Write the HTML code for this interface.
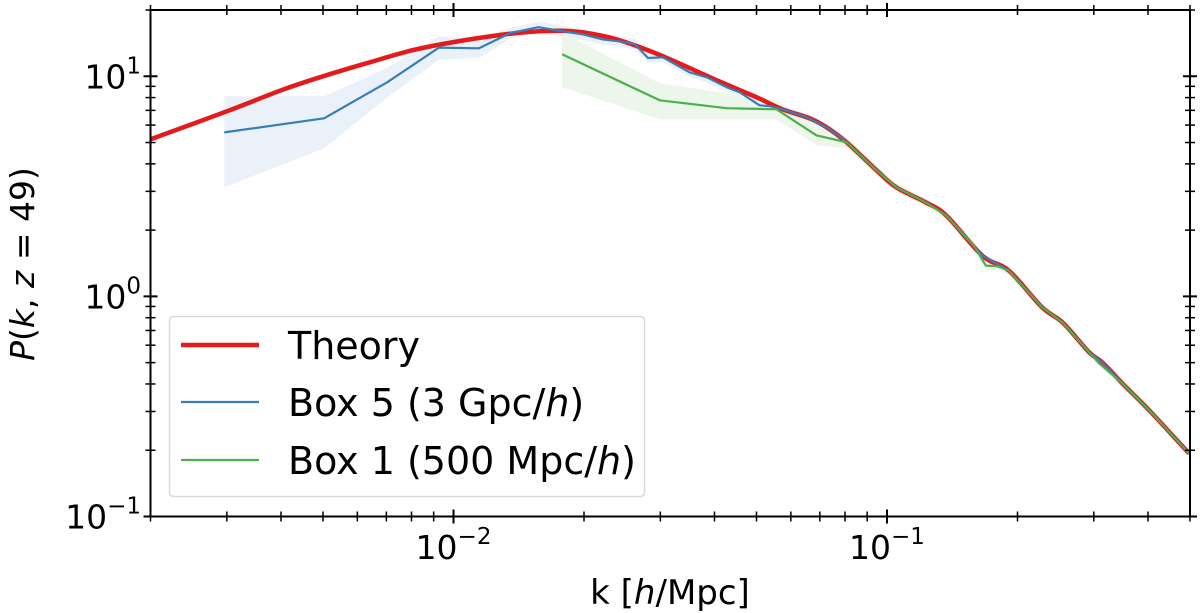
<!DOCTYPE html>
<html><head><meta charset="utf-8"><style>
html,body{margin:0;padding:0;background:#fff;}
svg{display:block;font-family:"DejaVu Sans","Liberation Sans",sans-serif;}
</style></head><body>
<svg id="chart" width="1200" height="613" viewBox="0 0 1200 613" xmlns="http://www.w3.org/2000/svg">
<g id="bands"></g><g id="lines"></g><g id="axes"></g>
</svg>
<script>
// Theory
const theoryK = [0.0020,0.0030,0.0040,0.0050,0.00642,0.0080,0.010,0.0125,0.0150,0.0175,0.020,0.0238,0.0299,0.0405,0.050,0.0574,0.0663,0.0726,0.0807,0.0946,0.105,0.123,0.137,0.166,0.191,0.228,0.254,0.293,0.314,0.349,0.403,0.498];
const theoryP = [5.17,6.93,8.63,10.0,11.58,13.1,14.3,15.3,15.9,16.1,15.8,14.7,12.5,9.59,8.03,7.08,6.44,5.86,5.01,3.74,3.13,2.67,2.33,1.53,1.31,0.891,0.762,0.556,0.501,0.403,0.303,0.193];
// Box 5
const box5K = [0.00296,0.00503,0.00703,0.00926,0.01145,0.0135,0.0157,0.0179,0.0199,0.0221,0.0242,0.0262,0.0281,0.0304,0.0351,0.0384,0.0427,0.0457,0.0508,0.0536,0.0574,0.0653,0.0726,0.0789,0.0946,0.105,0.123,0.137,0.166,0.191,0.228,0.254,0.293,0.314,0.349,0.403,0.498];
const box5P = [5.56,6.44,9.39,13.5,13.4,15.7,16.7,16.0,15.5,14.7,14.4,14.0,12.1,12.2,10.4,9.89,8.91,8.46,7.38,7.31,7.08,6.51,5.86,5.22,3.74,3.13,2.67,2.33,1.53,1.31,0.891,0.762,0.556,0.501,0.403,0.303,0.193];
const box5Lo = [3.13,4.71,8.0,11.9,12.1,14.8,15.7,15.1,14.6,13.9,13.6,13.2,11.5,11.6,9.9,9.4,8.5,8.05,7.0,6.95,6.75,6.2,5.6,5.0,3.6,3.02,2.58,2.26,1.49,1.27,0.87,0.745,0.545,0.49,0.395,0.297,0.19];
const box5Hi = [8.11,8.11,10.9,15.2,14.9,16.6,17.7,16.9,16.4,15.5,15.2,14.8,12.7,12.8,10.9,10.4,9.35,8.9,7.75,7.68,7.4,6.8,6.1,5.45,3.88,3.24,2.76,2.4,1.57,1.35,0.91,0.78,0.567,0.512,0.411,0.309,0.196];
// Box 1
const box1K = [0.0178,0.0299,0.0427,0.0556,0.0687,0.0807,0.0946,0.105,0.123,0.137,0.159,0.169,0.180,0.191,0.228,0.254,0.293,0.309,0.349,0.403,0.498];
const box1P = [12.6,7.78,7.16,7.08,5.39,5.01,3.74,3.13,2.67,2.33,1.69,1.38,1.37,1.31,0.891,0.762,0.556,0.495,0.403,0.303,0.193];
const box1Lo = [8.91,6.38,6.38,6.38,4.86,4.7,3.55,2.98,2.55,2.23,1.62,1.32,1.31,1.26,0.86,0.74,0.54,0.48,0.393,0.296,0.189];
const box1Hi = [15.8,9.3,8.37,7.78,5.86,5.3,3.93,3.28,2.79,2.43,1.76,1.44,1.43,1.36,0.92,0.785,0.572,0.51,0.413,0.31,0.197];
const xMajors = [0.01,0.1];
const yMajors = [0.1,1,10];
const xTickLabels = ["−2","−1"];
const yTickLabels = ["−1","0","1"];

const L=150.5,R=1190,T=10,B=516.5;
const X0=Math.log10(0.002),X1=Math.log10(0.5),Y0=-1,Y1=Math.log10(20);
function xs(k){return L+(Math.log10(k)-X0)/(X1-X0)*(R-L);}
function ys(p){return B-(Math.log10(p)-Y0)/(Y1-Y0)*(B-T);}
const NS="http://www.w3.org/2000/svg";
function mk(tag,parent){const e=document.createElementNS(NS,tag);parent.appendChild(e);return e;}
const bands=document.getElementById('bands'),lines=document.getElementById('lines'),axes=document.getElementById('axes');

function band(K,lo,hi,fill,name){
  let d='M'+K.map((k,i)=>xs(k).toFixed(1)+','+ys(hi[i]).toFixed(1)).join('L');
  for(let i=K.length-1;i>=0;i--) d+='L'+xs(K[i]).toFixed(1)+','+ys(lo[i]).toFixed(1);
  const p=mk('path',bands);p.setAttribute('d',d+'Z');p.setAttribute('fill',fill);
  
  
}
function smoothPath(pts){
  let d='M'+pts[0][0].toFixed(1)+','+pts[0][1].toFixed(1);
  for(let i=0;i<pts.length-1;i++){
    const p0=pts[Math.max(0,i-1)],p1=pts[i],p2=pts[i+1],p3=pts[Math.min(pts.length-1,i+2)];
    const c1=[p1[0]+(p2[0]-p0[0])/6,p1[1]+(p2[1]-p0[1])/6],c2=[p2[0]-(p3[0]-p1[0])/6,p2[1]-(p3[1]-p1[1])/6];
    d+='C'+c1[0].toFixed(1)+','+c1[1].toFixed(1)+' '+c2[0].toFixed(1)+','+c2[1].toFixed(1)+' '+p2[0].toFixed(1)+','+p2[1].toFixed(1);
  }
  return d;
}
function line(K,P,color,w,name,smooth){
  const p=mk('path',lines);
  const pts=K.map((k,i)=>[xs(k),ys(P[i])]);
  p.setAttribute('d',smooth?smoothPath(pts):'M'+pts.map(q=>q[0].toFixed(1)+','+q[1].toFixed(1)).join('L'));
  p.setAttribute('fill','none');p.setAttribute('stroke',color);p.setAttribute('stroke-width',w);p.setAttribute('stroke-linejoin','round');
  
  
}
const cp=mk('clipPath',document.getElementById('chart'));cp.id='clip';
const cr=mk('rect',cp);cr.setAttribute('x',L);cr.setAttribute('y',T);cr.setAttribute('width',R-L);cr.setAttribute('height',B-T);
bands.setAttribute('clip-path','url(#clip)');lines.setAttribute('clip-path','url(#clip)');
band(box5K,box5Lo,box5Hi,'#eaf1f8','box5-band');
band(box1K,box1Lo,box1Hi,'#ecf6ea','box1-band');
line(theoryK,theoryP,'#e41a1c',4.5,'theory-line',true);
line(box5K,box5P,'#377eb8',2.2,'box5-line',false);
line(box1K,box1P,'#4daf4a',2.2,'box1-line',false);

// frame
const fr=mk('rect',axes);fr.setAttribute('x',L);fr.setAttribute('y',T);fr.setAttribute('width',R-L);fr.setAttribute('height',B-T);
fr.setAttribute('fill','none');fr.setAttribute('stroke','#000');fr.setAttribute('stroke-width',2);


function tk(x1,y1,x2,y2,w){const l=mk('line',axes);l.setAttribute('x1',x1);l.setAttribute('y1',y1);l.setAttribute('x2',x2);l.setAttribute('y2',y2);l.setAttribute('stroke','#000');l.setAttribute('stroke-width',w);
  
  }
for(let e=-3;e<=0;e++)for(let m=1;m<10;m++){const k=m*Math.pow(10,e);if(k<0.002-1e-9||k>0.5+1e-9)continue;const x=xs(k);const big=m===1;const h=big?7:5;
  tk(x,B-h,x,B+h,big?2:1.5);tk(x,T-h,x,T+h,big?2:1.5);}
for(let e=-1;e<=1;e++)for(let m=1;m<10;m++){const p=m*Math.pow(10,e);if(p<0.1-1e-9||p>20+1e-9)continue;const y=ys(p);const big=m===1;const h=big?7:5;
  tk(L-h,y,L+h,y,big?2:1.5);tk(R-h,y,R+h,y,big?2:1.5);}
function txt(x,y,s,size,anchor,parent,name){const t=mk('text',parent||axes);t.setAttribute('x',x);t.setAttribute('y',y);t.setAttribute('font-size',size);t.setAttribute('text-anchor',anchor);t.innerHTML=s;
  
  return t;}
xMajors.forEach((k,i)=>txt(xs(k),559,'10<tspan dy="-15" font-size="23">'+xTickLabels[i]+'</tspan>',33,'middle',null,'x-tick-label'));
yMajors.forEach((p,i)=>txt(141,ys(p)+12,'10<tspan dy="-15" font-size="23">'+yTickLabels[i]+'</tspan>',33,'end',null,'y-tick-label'));
txt(670,604,'k [<tspan font-style="italic">h</tspan>/Mpc]',34,'middle',null,'x-axis-title');
const yt=txt(0,0,'<tspan font-style="italic">P</tspan>(<tspan font-style="italic">k</tspan>, <tspan font-style="italic">z</tspan> = 49)',33,'middle',null,'y-axis-title');
yt.setAttribute('transform','translate(34,264) rotate(-90)');

// legend
const lg=mk('g',axes);


const lb=mk('rect',lg);lb.setAttribute('x',169.5);lb.setAttribute('y',316.5);lb.setAttribute('width',475);lb.setAttribute('height',180);lb.setAttribute('rx',4);
lb.setAttribute('fill','#fff');lb.setAttribute('fill-opacity','0.85');lb.setAttribute('stroke','#d9d9d9');lb.setAttribute('stroke-width',1.5);


const entries=[['Theory','#e41a1c',4.5,345],['Box 5 (3 Gpc/<tspan font-style="italic">h</tspan>)','#377eb8',2.2,402],['Box 1 (500 Mpc/<tspan font-style="italic">h</tspan>)','#4daf4a',2.2,460]];
entries.forEach(en=>{const l=mk('line',lg);l.setAttribute('x1',181);l.setAttribute('x2',259);l.setAttribute('y1',en[3]);l.setAttribute('y2',en[3]);l.setAttribute('stroke',en[1]);l.setAttribute('stroke-width',en[2]);
  
  
  txt(288,en[3]+14,en[0],38,'start',lg,'legend-entry');});
</script>
</body></html>
